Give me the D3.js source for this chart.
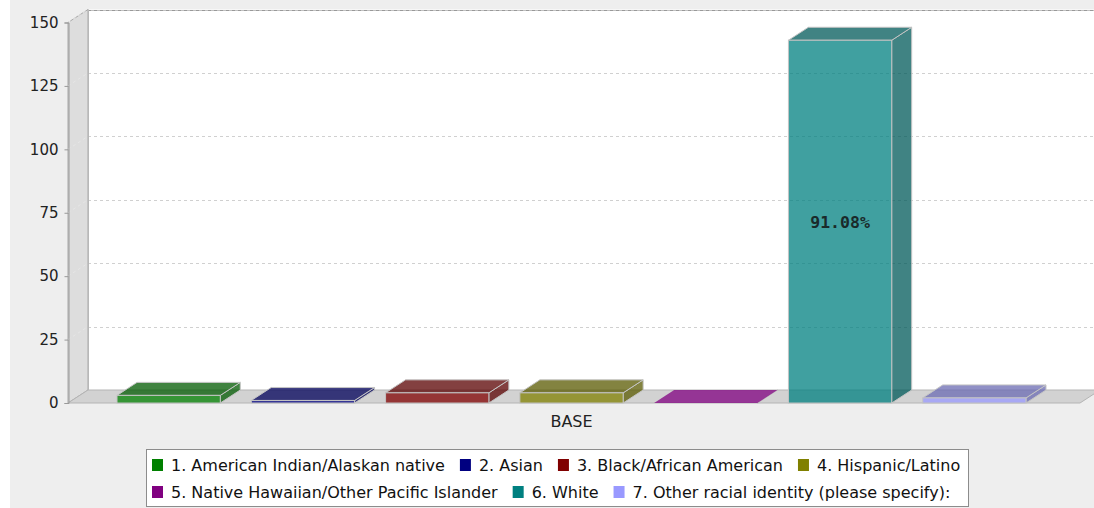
<!DOCTYPE html>
<html>
<head>
<meta charset="utf-8">
<script src="https://cdn.jsdelivr.net/npm/d3@7"></script>
<style>
  html, body { margin: 0; padding: 0; background: #ffffff; }
  svg { display: block; }
</style>
</head>
<body>
<svg id="chart" width="1094" height="508"></svg>
<script>
// Responses by racial identity (single category "BASE")
const categories = ["BASE"];
const seriesNames = [
  "1. American Indian/Alaskan native",
  "2. Asian",
  "3. Black/African American",
  "4. Hispanic/Latino",
  "5. Native Hawaiian/Other Pacific Islander",
  "6. White",
  "7. Other racial identity (please specify):"
];
const seriesValues = [3, 1, 4, 4, 0, 143, 2];
const seriesColors = ["#008000", "#000080", "#800000", "#808000", "#800080", "#008080", "#9999ff"];
const totalResponses = 157;
const labelledSeries = ["6. White"];
const yTicks = [0, 25, 50, 75, 100, 125, 150];

const svg = d3.select("#chart");

// Panel geometry
const dx = 20, dy = 13;                  // 3D depth offset
const plotLeft = 68, plotRight = 1075;   // front plane, x extent
const plotTop = 22.5, plotBottom = 403;  // front plane, y extent
const barAlpha = 0.75;

svg.append("rect").attr("x", 10).attr("y", 0).attr("width", 1084).attr("height", 508).attr("fill", "#eeeeee");

const y = d3.scaleLinear().domain([0, 150]).range([plotBottom, plotTop]);
const x = d3.scaleBand().domain(seriesNames).range([plotLeft, plotRight]).paddingInner(0.231).paddingOuter(0.365);
const xCat = d3.scaleBand().domain(categories).range([plotLeft, plotRight]);

// Back wall
svg.append("rect")
  .attr("x", plotLeft + dx).attr("y", plotTop - dy)
  .attr("width", plotRight - plotLeft + 5).attr("height", plotBottom - plotTop)
  .attr("fill", "#ffffff");

// Left wall
svg.append("polygon")
  .attr("points", [[plotLeft, plotTop], [plotLeft + dx, plotTop - dy], [plotLeft + dx, plotBottom - dy], [plotLeft, plotBottom]].join(" "))
  .attr("fill", "#dddddd").attr("stroke", "#a8a8a8").attr("stroke-width", 1);

// Floor
svg.append("polygon")
  .attr("points", [[plotLeft, plotBottom], [plotLeft + dx, plotBottom - dy], [plotRight + dx + 5, plotBottom - dy], [plotRight + 5, plotBottom]].join(" "))
  .attr("fill", "#d2d2d2").attr("stroke", "#b4b4b4").attr("stroke-width", 1);

// Gridlines across the back wall and the left wall
const grid = svg.append("g");
yTicks.filter(t => t > 0).forEach(t => {
  const yy = Math.round(y(t) - dy) + 0.5;
  if (t === 150) {
    grid.append("line")
      .attr("x1", plotLeft + dx).attr("x2", 1094).attr("y1", yy).attr("y2", yy)
      .attr("stroke", "#c0c0c0").attr("stroke-width", 1);
  }
  grid.append("line")
    .attr("x1", plotLeft + dx).attr("x2", 1094).attr("y1", yy).attr("y2", yy)
    .attr("stroke", t === 150 ? "#999999" : "#d0d0d0").attr("stroke-width", 1)
    .attr("stroke-dasharray", "3,3");
  grid.append("line")
    .attr("x1", plotLeft).attr("y1", y(t)).attr("x2", plotLeft + dx).attr("y2", y(t) - dy)
    .attr("stroke", "#e6e6e6").attr("stroke-width", 1).attr("stroke-dasharray", "3,3");
});
// Back wall left edge
svg.append("line").attr("x1", plotLeft + dx + 0.5).attr("x2", plotLeft + dx + 0.5)
  .attr("y1", plotTop - dy).attr("y2", plotBottom - dy).attr("stroke", "#b8b8b8");

// Y axis
const yAxis = d3.axisLeft(y).tickValues(yTicks).tickSize(4).tickPadding(6);
const gy = svg.append("g").attr("transform", `translate(${plotLeft + 0.5},0)`).call(yAxis);
gy.select(".domain").attr("stroke", "#999999");
gy.selectAll(".tick line").attr("stroke", "#999999");
gy.selectAll(".tick text")
  .attr("font-family", "DejaVu Sans, sans-serif").attr("font-size", 15).attr("fill", "#222222");

// Category label
svg.append("text")
  .attr("x", xCat("BASE") + xCat.bandwidth() / 2).attr("y", 427)
  .attr("text-anchor", "middle")
  .attr("font-family", "DejaVu Sans, sans-serif").attr("font-size", 16).attr("fill", "#222222")
  .text("BASE");

// 3D bars
const darker = c => { const r = d3.rgb(c); return d3.rgb(r.r * 0.7, r.g * 0.7, r.b * 0.7).toString(); };
const bars = svg.append("g");
seriesNames.forEach((s, i) => {
  const v = seriesValues[i];
  const x0 = x(s), x1 = x0 + x.bandwidth();
  const y0 = y(0), y1 = y(v);
  const g = bars.append("g").attr("fill-opacity", barAlpha);
  const stroke = "#c4c4c4";
  const faceColor = v > 0 ? darker(seriesColors[i]) : seriesColors[i];
  // side face
  g.append("polygon")
    .attr("points", [[x1, y1], [x1 + dx, y1 - dy], [x1 + dx, y0 - dy], [x1, y0]].join(" "))
    .attr("fill", faceColor).attr("stroke", stroke).attr("stroke-width", 1);
  // top face
  g.append("polygon")
    .attr("points", [[x0, y1], [x0 + dx, y1 - dy], [x1 + dx, y1 - dy], [x1, y1]].join(" "))
    .attr("fill", faceColor).attr("stroke", v > 0 ? stroke : "none").attr("stroke-width", 1);
  // front face
  if (v > 0) {
    g.append("rect")
      .attr("x", x0).attr("y", y1).attr("width", x1 - x0).attr("height", y0 - y1)
      .attr("fill", seriesColors[i]).attr("stroke", stroke).attr("stroke-width", 1);
  }
  if (labelledSeries.includes(s)) {
    bars.append("text")
      .attr("x", (x0 + x1) / 2).attr("y", (y0 + y1) / 2 + 1)
      .attr("text-anchor", "middle").attr("dominant-baseline", "central")
      .attr("font-family", "DejaVu Sans Mono, monospace").attr("font-weight", "bold")
      .attr("font-size", 16.5).attr("fill", "#1a2a2a")
      .text((v / totalResponses * 100).toFixed(2) + "%");
  }
});

// Legend (rows flow left to right from a common left edge)
const legendBox = { x: 146.5, y: 449.5, w: 822, h: 57 };
svg.append("rect")
  .attr("x", legendBox.x).attr("y", legendBox.y).attr("width", legendBox.w).attr("height", legendBox.h)
  .attr("fill", "#ffffff").attr("stroke", "#8c8c8c");
const rows = [[0, 1, 2, 3], [4, 5, 6]];
const legend = svg.append("g");
rows.forEach((row, r) => {
  const rowG = legend.append("g");
  let cx = 0;
  row.forEach(i => {
    const item = rowG.append("g").attr("transform", `translate(${cx},0)`);
    item.append("rect").attr("x", 0).attr("y", -6).attr("width", 11).attr("height", 12)
      .attr("fill", seriesColors[i]);
    const t = item.append("text").attr("x", 19).attr("y", 0)
      .attr("dominant-baseline", "central")
      .attr("font-family", "DejaVu Sans, sans-serif").attr("font-size", 16).attr("fill", "#111111")
      .text(seriesNames[i]);
    cx += 19 + t.node().getComputedTextLength() + 15;
  });
  rowG.attr("transform", `translate(${legendBox.x + 5.5},${465 + r * 27})`);
});
</script>
</body>
</html>
